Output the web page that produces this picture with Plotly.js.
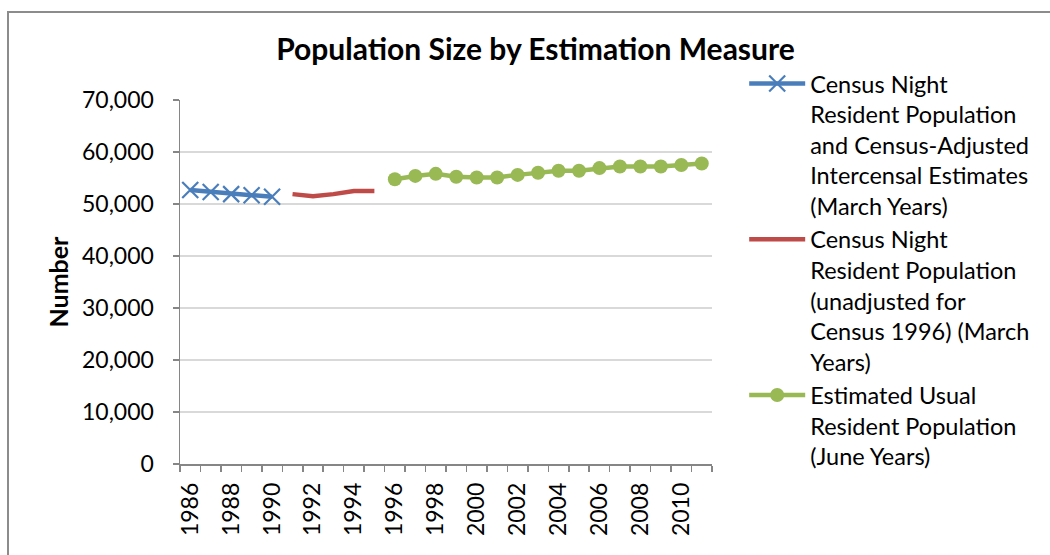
<!DOCTYPE html>
<html>
<head>
<meta charset="utf-8">
<script src="https://cdn.plot.ly/plotly-3.0.1.min.js"></script>
<style>
  html, body { margin: 0; padding: 0; background: #fff; overflow: hidden; }
  #frame { position: absolute; left: 7px; top: 11px; width: 1100px; height: 600px; border: 2px solid #8c8c8c; box-sizing: border-box; }
  #chart { position: absolute; left: 0; top: 0; width: 1050px; height: 555px; }
</style>
</head>
<body>
<div id="frame"></div>
<div id="chart"></div>
<script>
const yearsCensusAdj = [1986, 1987, 1988, 1989, 1990];
const censusAdj = [52700, 52300, 51900, 51700, 51400];

const yearsCensusUnadj = [1991, 1992, 1993, 1994, 1995];
const censusUnadj = [51900, 51500, 51900, 52500, 52500];

const yearsEstimated = [1996, 1997, 1998, 1999, 2000, 2001, 2002, 2003, 2004, 2005, 2006, 2007, 2008, 2009, 2010, 2011];
const estimated = [54750, 55400, 55800, 55250, 55100, 55100, 55600, 56000, 56400, 56400, 56900, 57200, 57200, 57200, 57500, 57800];

const tickYears = [1986, 1988, 1990, 1992, 1994, 1996, 1998, 2000, 2002, 2004, 2006, 2008, 2010];
const seriesNames = [
  "Census Night<br>Resident Population<br>and Census-Adjusted<br>Intercensal Estimates<br>(March Years)",
  "Census Night<br>Resident Population<br>(unadjusted for<br>Census 1996) (March<br>Years)",
  "Estimated Usual<br>Resident Population<br>(June Years)"
];

const FONT = "Lato, 'Open Sans', sans-serif";

const traces = [
  {
    x: yearsCensusAdj, y: censusAdj, name: seriesNames[0], type: 'scatter', mode: 'lines+markers',
    line: { color: '#4a7ebb', width: 4.5 },
    marker: { symbol: 'x-thin-open', size: 16, color: '#4a7ebb', line: { color: '#4a7ebb', width: 2.2 } }
  },
  {
    x: yearsCensusUnadj, y: censusUnadj, name: seriesNames[1], type: 'scatter', mode: 'lines',
    line: { color: '#be4b48', width: 4.5 }
  },
  {
    x: yearsEstimated, y: estimated, name: seriesNames[2], type: 'scatter', mode: 'lines+markers',
    line: { color: '#98b954', width: 4.5 },
    marker: { symbol: 'circle', size: 14, color: '#98b954' }
  }
];

const layout = {
  width: 1050, height: 555,
  paper_bgcolor: 'rgba(0,0,0,0)', plot_bgcolor: 'rgba(0,0,0,0)',
  margin: { l: 180, r: 338, t: 100, b: 91 },
  font: { family: FONT, color: '#000', size: 23 },
  title: { text: '<b>Population Size by Estimation Measure</b>', x: 0.51, xanchor: 'center', y: 0.91, yanchor: 'middle',
           font: { family: FONT, size: 30, color: '#000' } },
  showlegend: true,
  legend: {
    x: 1.0605, xanchor: 'left', y: 1.105, yanchor: 'top',
    font: { family: FONT, size: 23.5, color: '#000' },
    valign: 'top', itemwidth: 56, tracegroupgap: 0, maxheight: 540,
    bgcolor: 'rgba(0,0,0,0)'
  },
  xaxis: {
    range: [1985.5, 2011.5],
    tickmode: 'array', tickvals: tickYears, ticktext: tickYears.map(String),
    tickangle: -90, ticks: '', showgrid: false, zeroline: false,
    showline: true, linecolor: '#868686', linewidth: 1.5,
    ticklabelstandoff: 8,
    tickfont: { family: FONT, size: 23, color: '#000' },
    minor: { ticks: 'outside', tick0: 1985.5, dtick: 1, ticklen: 6, tickcolor: '#868686', tickwidth: 1.5, showgrid: false }
  },
  yaxis: {
    range: [0, 70000], dtick: 10000, tickformat: ',',
    showgrid: true, gridcolor: '#d9d9d9', gridwidth: 1.5, zeroline: false,
    showline: true, linecolor: '#868686', linewidth: 1.5,
    ticks: 'outside', ticklen: 6, tickcolor: '#868686', tickwidth: 1.5,
    ticklabelstandoff: 14,
    tickfont: { family: FONT, size: 23, color: '#000' },
    title: { text: '<b>Number</b>', standoff: 6, font: { family: FONT, size: 25, color: '#000' } }
  }
};

Plotly.newPlot('chart', traces, layout, { displayModeBar: false, staticPlot: true });
</script>
</body>
</html>
